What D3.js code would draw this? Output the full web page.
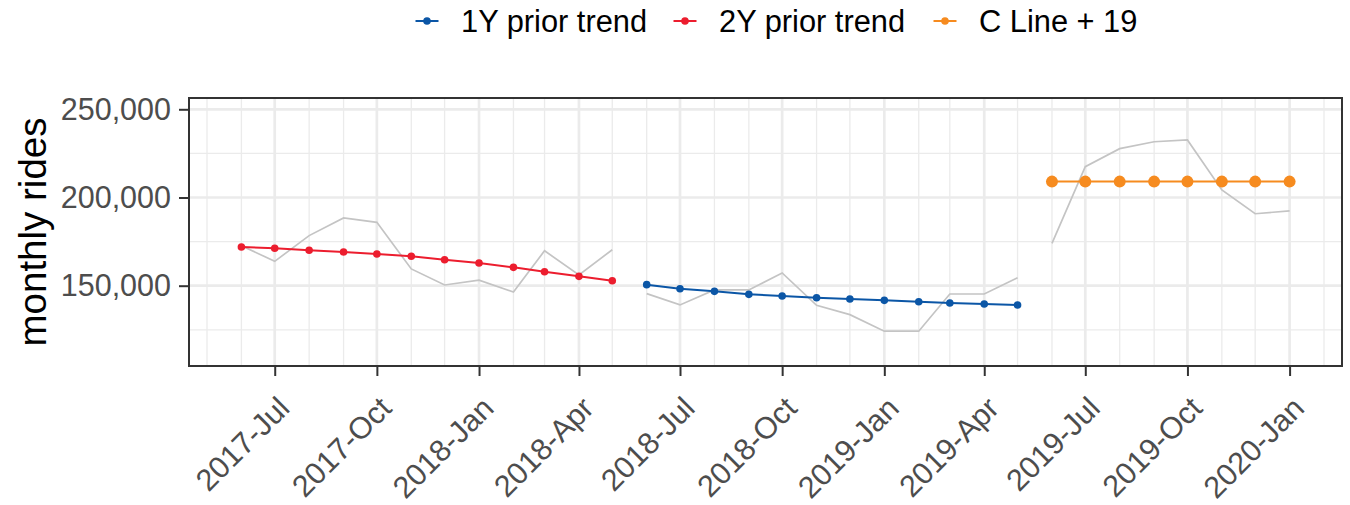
<!DOCTYPE html>
<html>
<head>
<meta charset="utf-8">
<script src="https://cdn.jsdelivr.net/npm/d3@7"></script>
<style>
  html, body { margin: 0; padding: 0; background: #fff; }
  svg { display: block; font-family: "Liberation Sans", Arial, Helvetica, sans-serif; }
</style>
</head>
<body>
<svg id="chart" width="1350" height="505"></svg>
<script>
// ---------------- data ----------------
const months2Y = ["2017-06","2017-07","2017-08","2017-09","2017-10","2017-11","2017-12","2018-01","2018-02","2018-03","2018-04","2018-05"];
const trend2Y  = [171900,171200,170100,169100,168000,166700,164700,162900,160400,157900,155300,152800];
const actual2Y = [172700,163800,178400,188400,185900,159500,150400,153100,146400,169800,156100,170400];

const months1Y = ["2018-06","2018-07","2018-08","2018-09","2018-10","2018-11","2018-12","2019-01","2019-02","2019-03","2019-04","2019-05"];
const trend1Y  = [150600,148300,146800,145100,144200,143200,142500,141700,140900,140200,139600,139100];
const actual1Y = [145500,139100,147600,147600,157200,138900,133600,124200,124200,145300,145300,154500];

const monthsC  = ["2019-06","2019-07","2019-08","2019-09","2019-10","2019-11","2019-12","2020-01"];
const trendC   = [209000,209000,209000,209000,209000,209000,209000,209000];
const actualC  = [174000,217500,227700,231600,232600,204300,190800,192400];

const seriesNames = ["1Y prior trend","2Y prior trend","C Line + 19"];
const seriesColors = ["#0b56a6","#ec1d2e","#f68b1f"];
const yTicks = [150000, 200000, 250000];
const yMinor = [125000, 175000, 225000];
const yDomain = [104480, 256400];

// ---------------- layout ----------------
const svg = d3.select("#chart");
const P = {left: 189, right: 1342, top: 98, bottom: 366};
const parse = d3.timeParse("%Y-%m");

const allDates = [...months2Y, ...months1Y, ...monthsC].map(parse);
const ext = d3.extent(allDates);
const span = ext[1] - ext[0];
const x = d3.scaleTime()
  .domain([new Date(+ext[0] - 0.05*span), new Date(+ext[1] + 0.05*span)])
  .range([P.left, P.right]);
const y = d3.scaleLinear().domain(yDomain).range([P.bottom, P.top]);

// grid
const g = svg.append("g");
const monthlyGrid = d3.timeMonth.range(x.domain()[0], x.domain()[1]);
const quarterTicks = d3.timeMonth.every(3).range(x.domain()[0], x.domain()[1])
  .filter(d => [0,3,6,9].includes(d.getMonth()));

g.selectAll(".vmin").data(monthlyGrid).join("line")
  .attr("x1", d => x(d)).attr("x2", d => x(d))
  .attr("y1", P.top).attr("y2", P.bottom)
  .attr("stroke", "#ebebeb").attr("stroke-width", 1.3);
g.selectAll(".hmin").data(yMinor).join("line")
  .attr("x1", P.left).attr("x2", P.right)
  .attr("y1", d => y(d)).attr("y2", d => y(d))
  .attr("stroke", "#ebebeb").attr("stroke-width", 1.3);
g.selectAll(".vmaj").data(quarterTicks).join("line")
  .attr("x1", d => x(d)).attr("x2", d => x(d))
  .attr("y1", P.top).attr("y2", P.bottom)
  .attr("stroke", "#ebebeb").attr("stroke-width", 2.7);
g.selectAll(".hmaj").data(yTicks).join("line")
  .attr("x1", P.left).attr("x2", P.right)
  .attr("y1", d => y(d)).attr("y2", d => y(d))
  .attr("stroke", "#ebebeb").attr("stroke-width", 2.7);

// actual (gray) lines
const line = d3.line().x(d => x(d[0])).y(d => y(d[1]));
const zip = (m, v) => m.map((s, i) => [parse(s), v[i]]);
[[months2Y, actual2Y], [months1Y, actual1Y], [monthsC, actualC]].forEach(([m, v]) => {
  svg.append("path").datum(zip(m, v)).attr("d", line)
    .attr("fill", "none").attr("stroke", "#c4c4c4").attr("stroke-width", 1.7);
});

// trend lines
const trends = [
  {m: months1Y, v: trend1Y, c: seriesColors[0], r: 3.8},
  {m: months2Y, v: trend2Y, c: seriesColors[1], r: 3.8},
  {m: monthsC,  v: trendC,  c: seriesColors[2], r: 6}
];
trends.forEach(t => {
  const data = zip(t.m, t.v);
  svg.append("path").datum(data).attr("d", line)
    .attr("fill", "none").attr("stroke", t.c).attr("stroke-width", 2);
  svg.selectAll(null).data(data).join("circle")
    .attr("cx", d => x(d[0])).attr("cy", d => y(d[1])).attr("r", t.r)
    .attr("fill", t.c);
});

// panel border
svg.append("rect").attr("x", P.left).attr("y", P.top)
  .attr("width", P.right - P.left).attr("height", P.bottom - P.top)
  .attr("fill", "none").attr("stroke", "#333333").attr("stroke-width", 2);

// y axis
const yAxis = d3.axisLeft(y).tickValues(yTicks).tickSize(10).tickPadding(8)
  .tickFormat(d3.format(","));
const ya = svg.append("g").attr("transform", `translate(${P.left},0)`).call(yAxis);
ya.select(".domain").remove();
ya.selectAll(".tick line").attr("stroke", "#333333").attr("stroke-width", 2);
ya.selectAll(".tick text").attr("fill", "#4d4d4d").style("font-size", "30.5px")
  .style("font-family", "Liberation Sans, Arial, sans-serif");

// x axis
const fmt = d3.timeFormat("%Y-%b");
const xAxis = d3.axisBottom(x).tickValues(quarterTicks).tickSize(10).tickFormat(fmt);
const xa = svg.append("g").attr("transform", `translate(0,${P.bottom})`).call(xAxis);
xa.select(".domain").remove();
xa.selectAll(".tick line").attr("stroke", "#333333").attr("stroke-width", 2);
xa.selectAll(".tick text")
  .attr("fill", "#4d4d4d").style("font-size", "30.5px")
  .style("font-family", "Liberation Sans, Arial, sans-serif")
  .attr("text-anchor", "end").attr("dy", null).attr("y", null)
  .attr("transform", "translate(16,44) rotate(-45)");

// y title
svg.append("text")
  .attr("transform", `translate(46,${(P.top + P.bottom)/2}) rotate(-90)`)
  .attr("text-anchor", "middle").attr("fill", "#000")
  .style("font-size", "38.5px").text("monthly rides");

// legend
const legX = [427, 685, 945];
const lg = svg.append("g");
seriesNames.forEach((name, i) => {
  lg.append("line").attr("x1", legX[i] - 11.5).attr("x2", legX[i] + 11.5)
    .attr("y1", 21).attr("y2", 21).attr("stroke", seriesColors[i]).attr("stroke-width", 2);
  lg.append("circle").attr("cx", legX[i]).attr("cy", 21).attr("r", 3.8).attr("fill", seriesColors[i]);
  lg.append("text").attr("x", legX[i] + 34).attr("y", 32)
    .attr("fill", "#000").style("font-size", "30.8px").text(name);
});
</script>
</body>
</html>
